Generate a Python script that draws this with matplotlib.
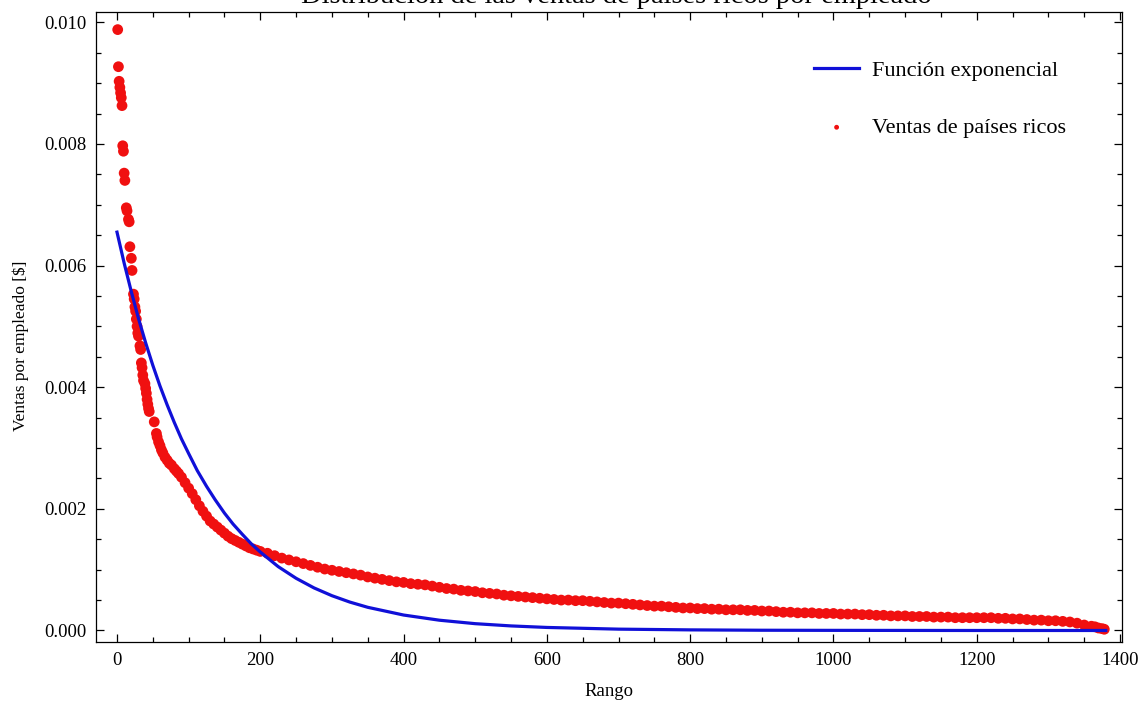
import matplotlib
matplotlib.use("Agg")
import matplotlib.pyplot as plt
from matplotlib.ticker import MultipleLocator, FormatStrFormatter

plt.rcParams["font.family"] = ["Liberation Serif", "DejaVu Serif"]

# Ventas de países ricos por empleado (rango, valor)
rango = [1, 2, 3, 4, 5, 6, 7, 8, 9, 10, 11, 13, 14, 16, 17, 18, 20, 21,
         23, 24, 25, 26, 27, 28, 29, 30, 32, 33, 34, 35, 36, 37, 39, 40,
         41, 42, 43, 44, 45, 52, 55, 56, 58, 60, 62, 64, 67, 70, 73, 76,
         80, 83, 86, 90, 95, 100, 105, 110, 115, 120, 125, 130, 135, 140,
         145, 150, 155, 160, 165, 170, 175, 180, 185, 190, 195, 200,
         210, 220, 230, 240, 250, 260, 270, 280, 290, 300, 310, 320, 330,
         340, 350, 360, 370, 380, 390, 400, 410, 420, 430, 440, 450, 460,
         470, 480, 490, 500, 510, 520, 530, 540, 550, 560, 570, 580, 590,
         600, 610, 620, 630, 640, 650, 660, 670, 680, 690, 700, 710, 720,
         730, 740, 750, 760, 770, 780, 790, 800, 810, 820, 830, 840, 850,
         860, 870, 880, 890, 900, 910, 920, 930, 940, 950, 960, 970, 980,
         990, 1000, 1010, 1020, 1030, 1040, 1050, 1060, 1070, 1080, 1090,
         1100, 1110, 1120, 1130, 1140, 1150, 1160, 1170, 1180, 1190, 1200,
         1210, 1220, 1230, 1240, 1250, 1260, 1270, 1280, 1290, 1300, 1310,
         1320, 1330, 1340, 1350, 1360, 1365, 1370, 1375, 1378]
ventas = [.00988, .00927, .00903, .00893, .00884, .00876, .00863, .00797,
          .00788, .00752, .00740, .00695, .00690, .00676, .00672, .00631,
          .00612, .00592, .00553, .00545, .00532, .00525, .00512, .00500,
          .00489, .00484, .00468, .00462, .00440, .00432, .00420, .00411,
          .00406, .00398, .00390, .00380, .00372, .00365, .00360, .00343,
          .00324, .00318, .00310, .00304, .00297, .00292, .00285, .00280,
          .00275, .00272, .00266, .00262, .00258, .00252, .00243, .00234,
          .00225, .00215, .00205, .00196, .00188, .00180, .00175, .00170,
          .00165, .00160, .00155, .00151, .00148, .00145, .00142, .00139,
          .00136, .00134, .00132, .00130,
          .00127, .00123, .00119, .00116, .00113, .00110, .00107, .00104,
          .00101, .00099, .00097, .00095, .00093, .00091, .00088, .00086,
          .00084, .00082, .00080, .00079, .00077, .00076, .00075, .00073,
          .00071, .00069, .00068, .00066, .00065, .00064, .00062, .00061,
          .00060, .00058, .00057, .00056, .00055, .00054, .00053, .00052,
          .00051, .00050, .00050, .00049, .00049, .00048, .00047, .00046,
          .00045, .00045, .00044, .00043, .00042, .00041, .00040, .00040,
          .00039, .00038, .00037, .00037, .00036, .00036, .00035, .00035,
          .00034, .00034, .00034, .00033, .00033, .00032, .00032, .00031,
          .00030, .00030, .00029, .00029, .00029, .00028, .00028, .00028,
          .00027, .00027, .00027, .00026, .00026, .00025, .00025, .00024,
          .00024, .00024, .00023, .00023, .00023, .00022, .00022, .00022,
          .00021, .00021, .00021, .00021, .00021, .00021, .00020, .00020,
          .00019, .00019, .00018, .00017, .00017, .00016, .00016, .00015,
          .00014, .00012, .00009, .00007, .00006, .00004, .00003, .00002]

# Función exponencial ajustada
rango_exp = [0, 10, 20, 30, 40, 50, 60, 70, 80, 90, 100, 112, 125, 137,
             150, 162, 175, 187, 200, 225, 250, 275, 300, 325, 350, 400,
             450, 500, 550, 600, 700, 800, 900, 1000, 1200, 1380]
ventas_exp = [.00655, .00604, .00557, .00513, .00473, .00436, .00402,
              .00371, .00342, .00315, .00291, .00263, .00237, .00215,
              .00193, .00175, .00158, .00143, .00129, .00105, .000858,
              .000700, .000572, .000467, .000381, .000254, .000169,
              .000112, .000075, .000050, .000022, .000010, .000004,
              .000002, .0, .0]

fig = plt.figure(figsize=(11.48, 7.04), dpi=100)
ax = fig.add_axes([0.084, 0.0881, 0.8934, 0.8949])

ax.scatter(rango, ventas, s=60, color="#f01010", edgecolors="none",
           label="Ventas de países ricos", zorder=2)
ax.plot(rango_exp, ventas_exp, color="#1010d8", lw=2.3,
        label="Función exponencial", zorder=3)

ax.set_xlim(-28.7, 1402.8)
ax.set_ylim(-0.000189, 0.01017)
ax.xaxis.set_major_locator(MultipleLocator(200))
ax.xaxis.set_minor_locator(MultipleLocator(50))
ax.yaxis.set_major_locator(MultipleLocator(0.002))
ax.yaxis.set_minor_locator(MultipleLocator(0.0005))
ax.yaxis.set_major_formatter(FormatStrFormatter("%.3f"))
ax.tick_params(which="both", direction="in", top=True, right=True,
               labelsize=13.5, width=0.9)
ax.tick_params(which="major", length=6, pad=7)
ax.tick_params(which="minor", length=3.5)
for s in ax.spines.values():
    s.set_linewidth(0.9)

ax.set_xlabel("Rango", fontsize=13.5, labelpad=10)
ax.set_ylabel("Ventas por empleado [$]", fontsize=12.5)
ax.yaxis.set_label_coords(-0.066, 0.47)
fig.text(0.537, 1 - 3 / 704, "Distribución de las ventas de países ricos por empleado",
         fontsize=20.5, ha="center", va="baseline")

h, l = ax.get_legend_handles_labels()
ax.legend(h[::-1], l[::-1], loc="upper right", bbox_to_anchor=(0.965, 0.955),
          frameon=False, fontsize=16, markerscale=0.45, handlelength=2.0,
          handletextpad=0.6, labelspacing=1.65)

fig.savefig("out.png", dpi=100)
